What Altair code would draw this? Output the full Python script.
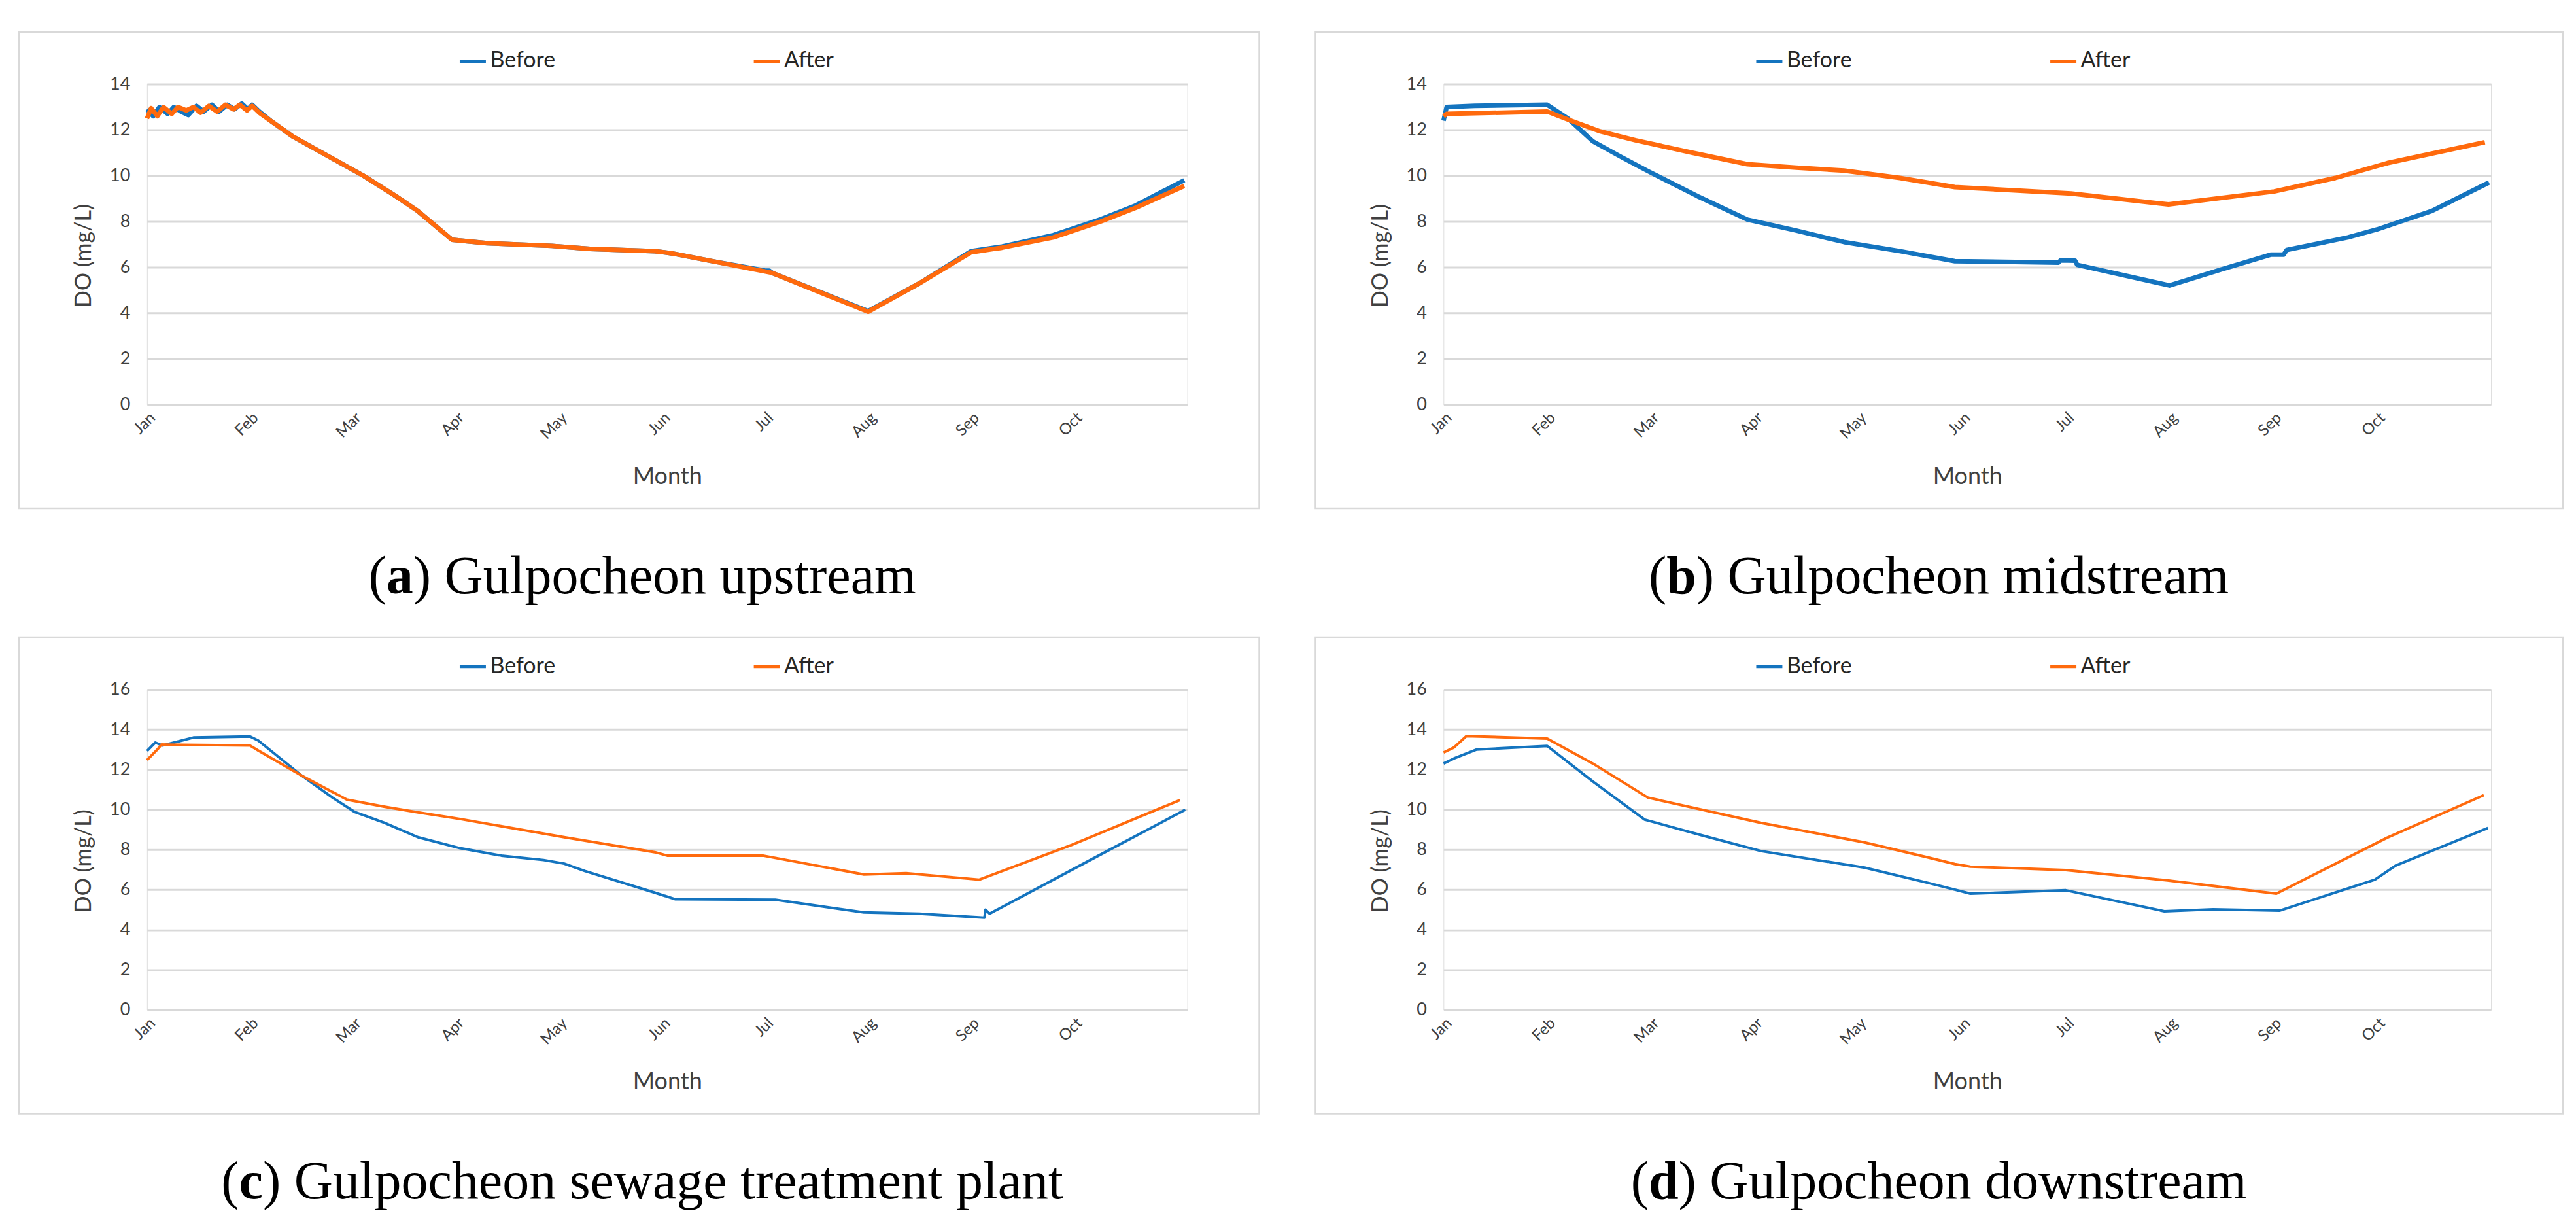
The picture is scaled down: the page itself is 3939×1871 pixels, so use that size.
import json
import altair as alt
import pandas as pd

MONTHS = ["Jan", "Feb", "Mar", "Apr", "May", "Jun", "Jul", "Aug", "Sep", "Oct"]
SERIES = ["Before", "After"]
COLORS = ["#1474BF", "#FF6A0D"]

# (a) Gulpocheon upstream
a_before_m = [0.00, 0.06, 0.12, 0.20, 0.26, 0.33, 0.40, 0.48, 0.55, 0.63, 0.70, 0.78, 0.85, 0.92, 0.98, 1.02,
              1.09, 1.20, 1.42, 1.70, 1.94, 2.10, 2.40, 2.63, 2.96, 3.30, 3.93, 4.30, 4.93, 5.10, 5.50, 6.00,
              6.04, 6.07, 7.00, 7.50, 8.00, 8.30, 8.80, 9.26, 9.60, 10.07]
a_before_v = [12.9, 12.6, 13.0, 12.7, 13.0, 12.8, 12.65, 13.05, 12.8, 13.1, 12.8, 13.1, 12.9, 13.15, 12.9, 13.1,
              12.8, 12.4, 11.7, 11.0, 10.4, 10.0, 9.15, 8.45, 7.2, 7.05, 6.93, 6.8, 6.7, 6.6, 6.25, 5.85,
              5.85, 5.75, 4.08, 5.3, 6.7, 6.9, 7.4, 8.1, 8.7, 9.8]
a_after_m = [0.00, 0.04, 0.10, 0.16, 0.24, 0.30, 0.38, 0.45, 0.52, 0.60, 0.68, 0.76, 0.84, 0.90, 0.97, 1.02,
             1.09, 1.20, 1.42, 1.70, 1.94, 2.10, 2.40, 2.63, 2.96, 3.30, 3.93, 4.30, 4.93, 5.10, 5.50, 6.07,
             7.00, 7.50, 8.00, 8.30, 8.80, 9.26, 9.60, 10.07]
a_after_v = [12.5, 12.95, 12.6, 13.0, 12.7, 13.0, 12.85, 13.0, 12.75, 13.05, 12.8, 13.1, 12.9, 13.1, 12.85, 13.05,
             12.75, 12.4, 11.7, 11.0, 10.4, 10.0, 9.15, 8.45, 7.2, 7.05, 6.93, 6.8, 6.7, 6.6, 6.25, 5.75,
             4.05, 5.3, 6.65, 6.85, 7.3, 8.0, 8.6, 9.55]

# (b) Gulpocheon midstream
b_before_m = [0.00, 0.03, 0.30, 1.00, 1.20, 1.44, 1.70, 1.97, 2.45, 2.93, 3.40, 3.86, 4.40, 4.93, 5.93, 5.95,
              6.09, 6.11, 7.00, 7.50, 7.98, 8.10, 8.13, 8.72, 9.00, 9.53, 10.08]
b_before_v = [12.4, 13.0, 13.05, 13.1, 12.5, 11.5, 10.85, 10.2, 9.1, 8.08, 7.6, 7.1, 6.7, 6.26, 6.2, 6.3,
              6.28, 6.1, 5.2, 5.9, 6.55, 6.55, 6.75, 7.3, 7.65, 8.46, 9.7]
b_after_m = [0.00, 0.03, 1.00, 1.20, 1.50, 1.85, 2.40, 2.93, 3.40, 3.86, 4.40, 4.93, 6.05, 6.99, 8.01, 8.60,
             9.10, 10.04]
b_after_v = [12.6, 12.7, 12.8, 12.45, 11.95, 11.55, 11.0, 10.5, 10.35, 10.22, 9.9, 9.5, 9.22, 8.74, 9.31, 9.9,
             10.55, 11.46]

# (c) Gulpocheon sewage treatment plant
c_before_m = [0.00, 0.08, 0.15, 0.30, 0.45, 1.00, 1.08, 1.50, 1.80, 2.02, 2.30, 2.63, 3.04, 3.44, 3.85, 4.05,
              4.25, 4.93, 5.13, 6.10, 6.96, 7.50, 8.13, 8.14, 8.18, 9.19, 10.08]
c_before_v = [12.93, 13.35, 13.2, 13.4, 13.6, 13.65, 13.45, 11.7, 10.6, 9.87, 9.35, 8.62, 8.07, 7.7, 7.48, 7.3,
              6.93, 5.85, 5.52, 5.5, 4.86, 4.8, 4.6, 5.0, 4.8, 7.57, 9.99]
c_after_m = [0.00, 0.10, 0.14, 1.00, 1.08, 1.50, 1.94, 2.30, 2.63, 3.04, 4.05, 4.93, 5.05, 5.98, 6.96, 7.37,
             8.08, 8.98, 10.03]
c_after_v = [12.47, 13.0, 13.25, 13.2, 12.95, 11.7, 10.5, 10.15, 9.86, 9.53, 8.62, 7.87, 7.7, 7.7, 6.76, 6.82,
             6.5, 8.24, 10.48]

# (d) Gulpocheon downstream
d_before_m = [0.00, 0.10, 0.32, 1.00, 1.44, 1.94, 2.50, 3.06, 4.06, 4.68, 4.93, 5.08, 6.00, 6.95, 7.42, 8.06,
              8.98, 9.18, 10.07]
d_before_v = [12.3, 12.55, 13.0, 13.18, 11.4, 9.5, 8.7, 7.93, 7.1, 6.33, 6.0, 5.8, 5.97, 4.92, 5.02, 4.95,
              6.5, 7.2, 9.08]
d_after_m = [0.00, 0.10, 0.22, 1.00, 1.44, 1.97, 3.06, 4.06, 4.68, 4.93, 5.08, 6.00, 6.98, 8.03, 9.10, 10.03]
d_after_v = [12.85, 13.1, 13.67, 13.55, 12.3, 10.6, 9.34, 8.36, 7.6, 7.28, 7.15, 6.98, 6.46, 5.8, 8.6, 10.72]

captions = [
    ("a", ") Gulpocheon upstream"),
    ("b", ") Gulpocheon midstream"),
    ("c", ") Gulpocheon sewage treatment plant"),
    ("d", ") Gulpocheon downstream"),
]

# Times-like advance widths (em) used only to lay out the captions
REG_W = {" ": .25, "(": .333, ")": .333, "G": .722, "a": .444, "c": .444, "d": .5, "e": .444, "g": .5,
         "h": .5, "i": .278, "l": .278, "m": .778, "n": .5, "o": .5, "p": .5, "r": .333, "s": .389,
         "t": .278, "u": .5, "w": .722}
BOLD_W = {"a": .5, "b": .556, "c": .444, "d": .556}

FONT = "Lato"
CAP_FONT = "Liberation Serif"
CAP_SIZE = 82
GRID = "#D9D9D9"
W1, W2, H = 1592, 1603, 490


def series_df(m, v, name):
    return pd.DataFrame({"m": m, "v": v, "series": name, "i": list(range(len(m)))})


def panel(bm, bv, am, av, ymax, width, height, cap, lw):
    xenc = alt.X("m:Q", scale=alt.Scale(domain=[0, 10.1], nice=False, zero=False),
                 axis=alt.Axis(values=list(range(10)), labelExpr=json.dumps(MONTHS) + "[datum.value]",
                               labelAngle=-45, labelFontSize=24, labelFont=FONT, labelColor="#404040",
                               labelPadding=8, grid=False, ticks=False, domain=False,
                               title="Month", titleFont=FONT, titleFontSize=36, titleFontWeight="normal",
                               titleColor="#404040", titleY=121, titleBaseline="alphabetic"))
    yenc = alt.Y("v:Q", scale=alt.Scale(domain=[0, ymax], nice=False, zero=True),
                 axis=alt.Axis(values=list(range(0, ymax + 1, 2)), grid=True, gridColor=GRID, gridWidth=3,
                               ticks=False, domain=False, labelFontSize=27, labelFont=FONT,
                               labelColor="#404040", labelPadding=26,
                               title="DO (mg/L)", titleFont=FONT, titleFontSize=34, titleFontWeight="normal",
                               titleColor="#404040", titlePadding=22, titleY=height / 2 + 17))
    cenc = alt.Color("series:N", scale=alt.Scale(domain=SERIES, range=COLORS),
                     legend=alt.Legend(orient="none", legendX=476, legendY=-58, direction="horizontal",
                                       columns=2, columnPadding=293, title=None, symbolType="stroke",
                                       symbolSize=1600, symbolStrokeWidth=5, labelFontSize=34,
                                       labelFont=FONT, labelColor="#262626", labelOffset=4))

    one = alt.Data(values=[{"k": 1}])
    frame = alt.Chart(one).mark_rect(fillOpacity=0, stroke=GRID, strokeWidth=2.5).encode(
        x=alt.value(-196), x2=alt.value(width + 110), y=alt.value(-80), y2=alt.value(height + 159))

    before = alt.Chart(series_df(bm, bv, "Before")).mark_line(strokeWidth=lw, strokeJoin="round").encode(
        x=xenc, y=yenc, color=cenc, order="i:Q")
    after = alt.Chart(series_df(am, av, "After")).mark_line(strokeWidth=lw, strokeJoin="round").encode(
        x=xenc, y=yenc, color=cenc, order="i:Q")

    letter, rest = cap
    total = REG_W["("] + BOLD_W[letter] + sum(REG_W[ch] for ch in rest)
    left = 758 - total * CAP_SIZE / 2
    ybase = height + 289
    common = dict(font=CAP_FONT, fontSize=CAP_SIZE, align="left", baseline="alphabetic", color="#000000")
    t1 = alt.Chart(one).mark_text(text="(", **common).encode(x=alt.value(left), y=alt.value(ybase))
    t2 = alt.Chart(one).mark_text(text=letter, fontWeight="bold", **common).encode(
        x=alt.value(left + REG_W["("] * CAP_SIZE), y=alt.value(ybase))
    t3 = alt.Chart(one).mark_text(text=rest, **common).encode(
        x=alt.value(left + (REG_W["("] + BOLD_W[letter]) * CAP_SIZE), y=alt.value(ybase))

    return alt.layer(frame, before, after, t1, t2, t3).properties(width=width, height=height)


pa = panel(a_before_m, a_before_v, a_after_m, a_after_v, 14, W1, H, captions[0], 7)
pb = panel(b_before_m, b_before_v, b_after_m, b_after_v, 14, W2, H, captions[1], 7)
pc = panel(c_before_m, c_before_v, c_after_m, c_after_v, 16, W1, H, captions[2], 4)
pd_ = panel(d_before_m, d_before_v, d_after_m, d_after_v, 16, W2, H, captions[3], 4)

chart = alt.concat(pa, pb, pc, pd_, columns=2, bounds="flush",
                   spacing=alt.RowColnumber(row=436, column=392)).resolve_scale(
    color="independent", x="independent", y="independent").resolve_legend(color="independent").properties(
    padding={"left": 19, "top": 38, "right": 10, "bottom": 5}
).configure_view(strokeWidth=0).configure(font=FONT, background="white")

chart.save("out.html", embed_options={"renderer": "svg", "actions": False})
